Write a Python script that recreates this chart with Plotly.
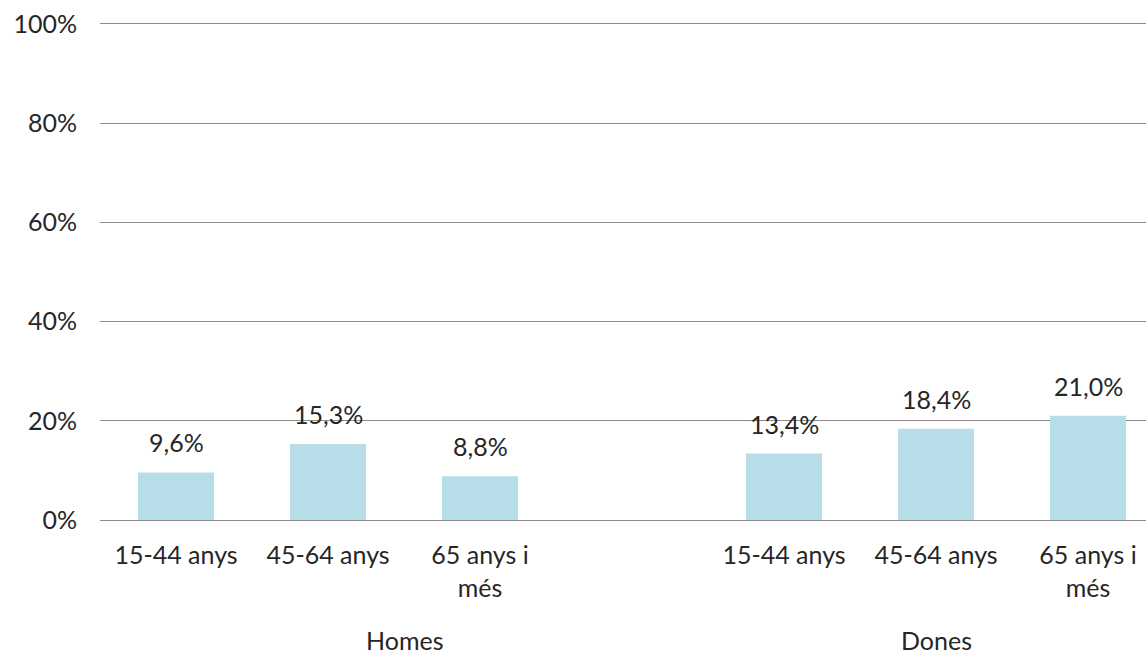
import plotly.graph_objects as go

# Age groups per sex; the Homes block carries one empty slot as a spacer
groups = ["Homes", "Dones"]
age_labels = ["15-44 anys", "45-64 anys", "65 anys i<br>més"]
homes = [9.6, 15.3, 8.8]
dones = [13.4, 18.4, 21.0]
y_ticks = [0, 20, 40, 60, 80, 100]

BAR_COLOR = "#B7DDE8"
TEXT_COLOR = "#262626"
GRID_COLOR = "#8C8C8C"
FONT = "Lato, 'Open Sans', sans-serif"
FS = 25

# slot positions: 0..2 = Homes, 3 = spacer, 4..6 = Dones
x_homes = list(range(len(age_labels)))
x_dones = [len(age_labels) + 1 + i for i in range(len(age_labels))]
xs = x_homes + x_dones
vals = homes + dones

def fmt(v):
    return f"{v:.1f}".replace(".", ",") + "%"

fig = go.Figure()
fig.add_trace(go.Bar(
    x=xs, y=vals, width=0.5,
    marker=dict(color=BAR_COLOR, line=dict(width=0)),
    hoverinfo="skip",
))

annotations = []
for x, v in zip(xs, vals):
    annotations.append(dict(
        x=x, y=v, xref="x", yref="y", text=fmt(v), showarrow=False,
        yanchor="bottom", yshift=13,
        font=dict(family=FONT, size=FS, color=TEXT_COLOR),
    ))

# group captions: Homes spans its three bars plus the spacer slot
group_centers = [(x_homes[0] + x_homes[-1] + 1) / 2, (x_dones[0] + x_dones[-1]) / 2]
for g, cx in zip(groups, group_centers):
    annotations.append(dict(
        x=cx, y=0, xref="x", yref="paper", text=g, showarrow=False,
        yanchor="middle", yshift=-120,
        font=dict(family=FONT, size=FS, color=TEXT_COLOR),
    ))

plot_left = 100
px_per_slot = 152
fig_w, fig_h = 1146, 658
x_max = -0.5 + (fig_w - plot_left) / px_per_slot

fig.update_layout(
    width=fig_w, height=fig_h,
    margin=dict(l=plot_left, r=0, t=24, b=138),
    paper_bgcolor="white", plot_bgcolor="white",
    showlegend=False,
    annotations=annotations,
    font=dict(family=FONT, size=FS, color=TEXT_COLOR),
    xaxis=dict(
        range=[-0.5, x_max],
        tickmode="array", tickvals=xs, ticktext=age_labels + age_labels,
        tickfont=dict(family=FONT, size=FS, color=TEXT_COLOR),
        showgrid=False, zeroline=False,
        # mirrored axis line gives both the 0% baseline and the 100% top line
        showline=True, mirror=True, linecolor=GRID_COLOR, linewidth=1,
        ticks="", ticklabelstandoff=13,
    ),
    yaxis=dict(
        range=[0, 100], tickmode="array", tickvals=y_ticks,
        ticktext=[f"{t}%" for t in y_ticks],
        tickfont=dict(family=FONT, size=FS, color=TEXT_COLOR),
        showgrid=True, gridcolor=GRID_COLOR, gridwidth=1,
        zeroline=False,
        showline=False, ticks="", ticklabelstandoff=22,
    ),
)

fig.write_html("out.html")
